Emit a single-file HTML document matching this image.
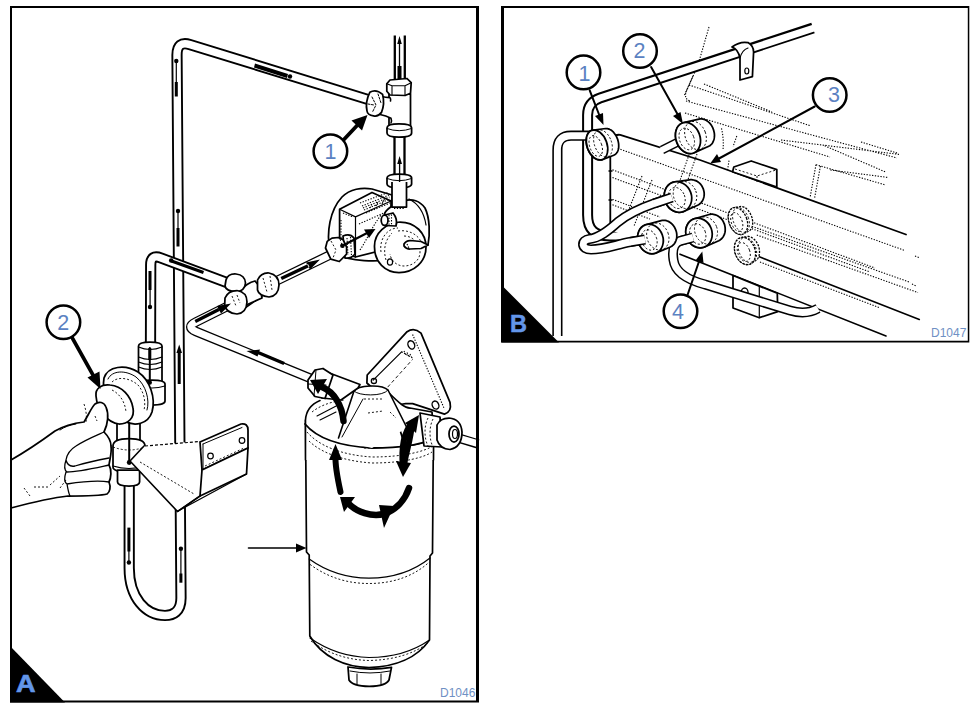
<!DOCTYPE html>
<html><head><meta charset="utf-8"><style>
html,body{margin:0;padding:0;background:#fff;width:977px;height:707px;overflow:hidden}
svg{display:block;position:absolute;left:0;top:0}
text{font-family:"Liberation Sans",sans-serif}
.k{fill:none;stroke:#000;stroke-linecap:round;stroke-linejoin:round}
.po{fill:none;stroke:#000;stroke-width:11.2;stroke-linecap:butt;stroke-linejoin:round}
.pi{fill:none;stroke:#fff;stroke-width:7.4;stroke-linecap:butt;stroke-linejoin:round}
.w{fill:#fff;stroke:#000;stroke-width:1.75;stroke-linejoin:round}
.d{fill:none;stroke:#000;stroke-width:0.9;stroke-dasharray:2 2}
.f{fill:#000;stroke:none}
.dt{fill:none;stroke:#000;stroke-width:1.1;stroke-dasharray:1.3 1.5}
.n{fill:#5b82c2;font-size:21.5px}
</style></head><body>
<svg width="977" height="707" viewBox="0 0 977 707">
<!-- PANEL A -->
<!-- P1 long pipe -->
<path class="po" d="M129.2,486 L129.2,568 C129.2,598 146,615.5 165,615.5 C173,615.5 181,612 181,598 L177,55 Q177,40.6 190,44.6 L368,99.5"/>
<path class="pi" d="M129.2,486 L129.2,568 C129.2,598 146,615.5 165,615.5 C173,615.5 181,612 181,598 L177,55 Q177,40.6 190,44.6 L368,99.5"/>
<!-- P2 -->
<path class="po" d="M228,283 L161,258 Q150.7,254 150.7,265 L150.5,345"/>
<path class="pi" d="M228,283 L161,258 Q150.7,254 150.7,265 L150.5,345"/>
<!-- P3 -->
<path class="po" style="stroke-width:9.6" d="M236,302 L196,322 Q185.5,327 196,331.5 L312,379"/>
<path class="pi" style="stroke-width:7" d="M236,302 L196,322 Q185.5,327 196,331.5 L312,379"/>
<!-- P4 -->
<path class="po" style="stroke-width:9.6" d="M266,286 L338,251"/>
<path class="pi" style="stroke-width:7" d="M266,286 L338,251"/>
<!-- top vertical pipes -->
<path class="po" style="stroke-width:12.3" d="M399.8,35.5 L399.8,82"/>
<path class="pi" style="stroke-width:7.7" d="M399.8,33 L399.8,82"/>
<path class="po" style="stroke-width:12.3" d="M399.5,135 L399.5,178"/>
<path class="pi" style="stroke-width:7.7" d="M399.5,135 L399.5,178"/>
<!-- outlet pipe right -->
<path class="po" style="stroke-width:9.6" d="M455,437 L478,444"/>
<path class="pi" style="stroke-width:7" d="M455,437 L479,444"/>

<!-- filter body -->
<path class="w" style="stroke-width:1.7" d="M305.5,420 L306.5,552 L309.2,555 L309.8,636 C322,657 345,667 369,667.5 C395,667 417,658 429.5,640 L430,556 L432.5,553 L433.5,420 Z"/>
<path class="k" stroke-width="1.2" d="M309.2,559 C330,574 350,578 369,578.2 C395,578 415,570 430,558"/>
<path class="d" d="M310,564.4 C330,579 350,583.5 369,583.5 C395,583.5 415,575 429,562.3"/>
<path class="k" stroke-width="1.1" d="M310,638 C330,652 350,657 369,657.5 C395,657.5 415,650 429.5,640"/>
<path class="d" d="M311,641 C330,655 350,660 369,660.5 C395,660 415,653 428,643"/>
<!-- drain plug -->
<path class="w" d="M348,667 L349,680 Q352.3,686 369.3,686.4 Q386,686 389,680 L391.5,667.3 Q370,671 348,667 Z"/>
<path class="k" stroke-width="1" d="M350,671 Q370,675 390,671 M357,674 L357,684 M381,674 L381,684"/>
<!-- filter top rim -->
<path fill="#fff" d="M305.5,460 L305.5,420 C306,410 318,401 335,398 L360,395 L395,395 C415,398 433,408 434,420 L434,460 Z"/>
<path class="k" stroke-width="1.6" d="M305.5,460 L305.5,420 C306,410 312,404 320,400.5 M433.5,460 L433.5,420"/>
<path class="k" stroke-width="1.8" d="M305,424 C315,436 335,446 372,448 C405,448 425,443 434,438"/>
<path class="d" d="M307,432 C318,445 340,455 372,457 C405,457 425,451 433,446"/>
<path class="d" d="M309,441 C320,452 342,461 372,463 C405,463 425,457 432,452"/>
<path class="d" d="M312,412 C322,404 335,401 345,400"/>
<path class="k" stroke-width="1.1" d="M317,416 L340,404 M320,420 L336,412"/>
<path class="d" d="M361,443 L371,443 M364,448 L374,448"/>
<!-- mounting plate -->
<path class="w" d="M366.9,383 L367.2,375 L407.1,331.7 Q414,327 421,333.1 L450,402.3 Q452,412 444.5,414.1 L412.6,403.7 L405.7,403.7 Q400,404 396,408 L380,395 Z"/>
<path class="k" stroke-width="1.2" d="M373.2,380.2 L401.6,351.8"/>
<path class="dt" d="M401.6,351.8 L412.6,358 M404,351 L406,355 M407,352.5 L409,356.5 M410,354 L412,358 M412.6,334.5 L444.5,409.3"/>
<path class="d" style="stroke-dasharray:3.5 2.5" d="M387.7,387.1 L412.6,359.4"/>
<ellipse class="k" stroke-width="1.4" cx="411.3" cy="344.9" rx="3.2" ry="4.3" transform="rotate(-25 411.3 344.9)"/>
<ellipse class="k" stroke-width="1.3" cx="373.9" cy="380.9" rx="2.6" ry="2.6"/>
<ellipse class="k" stroke-width="1.4" cx="435.5" cy="405.1" rx="3.2" ry="4.2" transform="rotate(-25 435.5 405.1)"/>
<!-- head body right side under plate -->
<path class="w" d="M388,392 C400,404 405,408 410,408 L432,412 L434,438 C425,443 415,445 405,446 Z"/>
<!-- outlet collar/nut -->
<path class="w" d="M420,413 L440,417 L442,447 L424,446 Z"/>
<path class="d" d="M428,418 C424,426 424,438 428,446 M433,419 C429,427 429,439 433,447"/>
<path class="w" d="M437,425 Q440,418 449,418 Q461,419 462,432 Q462,447 450,449.5 Q440,449 437,440 Z"/>
<ellipse class="w" cx="454" cy="434" rx="5" ry="8"/>
<ellipse class="k" stroke-width="1.2" cx="455" cy="434" rx="2.5" ry="4.5"/>
<!-- cone head -->
<path fill="#fff" d="M338,440 L354,391 C358,386 382,384 388,390 L407,428 L372,448 Z"/>
<path class="k" stroke-width="1.6" d="M338.5,438 L354,391 C358,385 382,384 388,390 L407,428"/>
<path class="k" stroke-width="1" d="M342,437 L363,399 M354,391 C358,396 383,397 388,390"/>
<path class="d" d="M364,399 L382,399 M368,413 L383,411 M390,412 L396,418"/>
<!-- inlet collar and nut -->
<path class="w" d="M324,371 L360,384.5 L358,388 L341,400 L322,398 Z"/>
<path class="w" d="M308,380 L315,370 L323,368.5 L333,375 L325,398.5 L315,396.5 L308,388 Z"/>
<path class="k" stroke-width="1" d="M308,384 L326,385 M316,370 L314,396"/>
<!-- filter curved arrows -->
<path class="k" stroke-width="6.5" stroke-linecap="butt" d="M343.5,421 C342,405 334,392 322,387"/>
<path class="f" d="M310,380 L327,379 L318,394 Z"/>
<path class="k" stroke-width="6" stroke-linecap="butt" d="M403,468 C401,448 404,432 412,423"/>
<path class="f" d="M419,415 L416,433 L405,423 Z"/>
<path class="k" stroke-width="6" stroke-linecap="butt" d="M340.5,492 C337,476 335,466 335.5,456"/>
<path class="f" d="M335.5,444 L342,460 L329,460 Z"/>
<path class="k" stroke-width="6" stroke-linecap="butt" d="M412,423 C411,440 405,455 404,466"/>
<path class="f" d="M403,477 L396,461 L411,463 Z"/>
<path class="k" stroke-width="6.5" stroke-linecap="butt" d="M409,488 C405,500 396,510 384,514 C371,517 357,512 349,504"/>
<path class="f" d="M379,505 L394,506 L384,528 Z M340,497 L355,497 L344,512 Z"/>
<!-- arrow pointing to filter -->
<path class="k" stroke-width="1.6" d="M248.5,548 L298,548"/>
<path class="f" d="M306.5,548 L296,543.5 L296,552.5 Z"/>
<!-- T1 tee top -->
<path class="w" d="M389,94 L389,126 L410.5,126 L410.5,94 Z"/>
<path fill="#fff" d="M379,96 Q386,97.5 390,97.6 L392,97.6 L392,118.3 L391,118.3 Q386,115.5 379,114.5 Z"/>
<path class="k" stroke-width="1.6" d="M380,96 Q386,97.5 390,97.6 Q391,99 390.5,101 M380,114.5 Q386,115.5 391,118.3 Q392,121 391,123"/>
<path class="w" d="M369.8,92.3 Q376,88.5 382.6,94.4 Q385,104 381.5,112.4 Q378,117 373.5,115.8 Q367.5,115 367,111 Q365,102 369.8,92.3 Z"/>
<path class="k" stroke-width="1" stroke-dasharray="2 1.5" d="M372,97 L376,105 L372.5,112 M378,94 L381,103 M368,104 L374,105"/>
<path class="w" d="M386.8,83.8 L390,80 L407,78.5 L411.2,82.7 L410.5,93.3 L405,95.5 L390,95 L386.8,91.2 Z"/>
<path class="k" stroke-width="1.1" d="M386.8,83.8 L392,85.8 L405,85.8 L411.2,82.7 M392,85.8 L392,95 M405,85.8 L405,95.5"/>
<path class="w" d="M387,128 Q387,123.8 399,123.8 Q411.6,123.8 411.6,128 L411.6,133 Q411.6,137.2 399,137.2 Q387,137.2 387,133 Z"/>
<path class="k" stroke-width="1" d="M387,128.5 Q399,133 411.6,128.5"/>
<path class="w" d="M387,178 Q387,174.2 399,174.2 Q411.6,174.2 411.6,178 L411.6,184 Q411.6,187.8 399,187.8 Q387,187.8 387,184 Z"/>
<path class="k" stroke-width="1" d="M387,178.5 Q399,183 411.6,178.5"/>
<!-- arrows in top pipes -->
<path class="k" stroke-width="1.3" d="M399.5,40 L399.5,70"/>
<path class="f" d="M397.5,66 L401.5,66 L401.5,79 L397.5,79 Z M399.5,36 L401.8,44 L397.2,44 Z"/>
<path class="k" stroke-width="1.3" d="M399.6,160 L399.6,205"/>
<path class="f" d="M397.6,186 L401.6,186 L401.6,200 L397.6,200 Z M399.6,156 L402,164 L397.2,164 Z"/>

<!-- PUMP -->
<path class="w" d="M330,252 C326,232 330,210 342,197 C350,189 362,187 372,189 L392,195 L393,258 C380,263 350,262 330,252 Z"/>
<path class="w" d="M339.6,209.3 L372,192.5 L391,201 L391,248 L355.5,257 L339.6,252 Z"/>
<path class="k" stroke-width="1.2" d="M339.6,209.3 L355.5,216.9 L355.5,257 M355.5,216.9 L391,201"/>
<path class="dt" d="M360,203 L388,192.5 M362,206 L389,195 M363,208 L389.5,197 M364,210 L390,199 M366,213 L390,203 M343,213 L353,217 M341,220 L341,248 M359,224 L386,212 M370,208 L372,204 M376,206 L378,202 M382,204 L384,200"/>
<path class="dt" d="M360,250 C368,238 372,226 382,214"/>
<!-- volute / housing -->
<path class="w" d="M384,216 C385,208 395,204 404,201 C412,198 420,201 425,208 C430,218 430,235 428,245 L400,250 Z"/>
<path class="k" stroke-width="1.2" d="M409,199 C417,203 424,212 426,225"/>
<path class="w" d="M392,182 L392,207 L406.5,207 L406.5,182"/>
<path class="dt" d="M394,208.5 L405,208.5"/>
<path class="w" d="M374.5,247 C374,233 386,223 400,222 C415,222 426,233 426,247 C426,262 414,272.5 399,272.5 C385,272.5 374.5,262 374.5,247 Z"/>
<path class="d" d="M381,252 C379,238 388,228 398,228 M386,260 C383,250 385,240 392,233"/>
<path class="d" d="M404,236 C413,236 420,244 420,252 C420,261 412,266 404,266 C397,266 391,261 390,254"/>
<path class="d" d="M398,231 C412,229 423,238 423,250"/>
<ellipse class="k" stroke-width="1.2" cx="390" cy="262" rx="2.6" ry="3.2"/>
<path class="w" d="M404,244 Q406,240.5 410,240.5 L421,241.5 L428,245 L421,248.5 L410,249 Q406,249 404,246 Z"/>
<path class="dt" d="M407,244 L409,248"/>
<!-- inlet boss -->
<path class="w" d="M384.8,215 L393,213 Q398,219 396,226 L384.8,225.5 Z"/>
<path class="dt" d="M389,215 L389,225 M391.5,214.5 L391.5,225.5"/>
<ellipse class="w" cx="384.6" cy="220.3" rx="3.4" ry="5.1"/>
<!-- P4 end nut at pump -->
<path class="w" d="M343,236 Q350,233 354,238 L355,254 Q351,259 345,258 Z"/>
<path class="dt" d="M347,238 L348,255 M350.5,237 L351.5,256"/>
<path class="w" d="M325.5,248 L327.2,241.4 L332,238.1 L338.1,237.5 L343,239.6 L346.6,247 L346.6,254.2 L339.3,261.5 L330.8,259.1 Z"/>
<path class="d" d="M331,241 L336,250 L333,258 M340,239 L343,248"/>
<path class="k" stroke-width="2.2" d="M342.4,245.7 L371,231"/>
<circle class="f" cx="342.4" cy="245.7" r="2.3"/>
<path class="f" d="M375.5,229 L364,229.5 L369,238 Z"/>

<!-- T2 junction -->
<path class="w" d="M240,296 L258,286 L262,296 L242,310 Z"/>
<path class="w" d="M241,290 Q247,283 255,281 L260,287 L262,298 L244,306 Z"/>
<path class="w" d="M226,280 Q228,273.5 236,274 Q245,275 245.5,283 Q245,291 236,292 Q226,291 225,286 Z"/>
<path class="w" d="M225,298 Q228,290.5 237,290.5 Q247,292 247,302 Q246.5,313 237,314 Q226,313 224.7,305 Z"/>
<path class="d" d="M232,296 L236,306 M237,295 L240,303"/>
<path class="w" d="M257.5,280 Q261,272.5 269,273 Q279,275 279,285 Q278.5,296 269,297 Q259,296 257.5,290 Z"/>
<path class="d" d="M263,278 L267,292 M270,276 L272,290"/>
<!-- arrows in P2/P3/P4 -->
<path class="f" d="M172,259.5 L204,271 L203,274 L171,262.5 Z"/>
<circle class="f" cx="171.2" cy="260.5" r="2.3"/>
<path class="f" d="M194.5,320 L218,308 L219.6,311 L196,323 Z M231,303.5 L217,306 L221,313.5 Z"/>
<path class="f" d="M280.5,277 L308,264 L309.5,267 L282,280 Z M320,259.5 L306,262.5 L310,269.5 Z"/>
<path class="f" d="M283.5,365 L258,354.2 L259.3,351.2 L284.8,362 Z M246.5,351 L260,349.5 L257.5,356.5 Z"/>
<path class="f" d="M255,63.5 L288,74 L287,78 L254,67.5 Z"/>
<circle class="f" cx="290" cy="76.5" r="2.2"/>
<!-- vertical arrows in P1 -->
<path class="k" stroke-width="1.2" d="M176.3,61 L176.3,85"/>
<circle class="f" cx="176.3" cy="61" r="2.2"/>
<path class="f" d="M174.8,82 L177.8,82 L177.8,96.5 L174.8,96.5 Z"/>
<circle class="f" cx="178" cy="211" r="2.2"/>
<path class="k" stroke-width="1.2" d="M178,211 L178,230"/>
<path class="f" d="M176.5,228 L179.5,228 L179.5,246.5 L176.5,246.5 Z"/>
<path class="f" d="M177.7,352 L180.7,352 L180.7,384 L177.7,384 Z M179.2,344.5 L182,353 L176.4,353 Z"/>
<path class="f" d="M148.5,271 L151.5,271 L151.5,290 L148.5,290 Z"/>
<path class="k" stroke-width="1.2" d="M150.1,288 L150.1,306"/>
<circle class="f" cx="150" cy="307" r="2.2"/>
<path class="f" d="M127.4,527.6 L130.4,527.6 L130.4,551.5 L127.4,551.5 Z"/>
<path class="k" stroke-width="1.2" d="M128.9,550 L128.9,562"/>
<circle class="f" cx="128.9" cy="562.5" r="2.2"/>
<circle class="f" cx="180.9" cy="548.7" r="2.2"/>
<path class="k" stroke-width="1.2" d="M180.9,549 L180.9,574"/>
<path class="f" d="M179.4,573.5 L182.4,573.5 L182.4,582.7 L179.4,582.7 Z"/>

<!-- fitting on P2 (vertical cylinder) -->
<path class="w" d="M138.5,346 Q138.5,342 150,342 Q162,342 162,346 L162,384 L138.5,384 Z"/>
<path class="k" stroke-width="1.1" d="M138.5,347 Q150,352 162,347 M138.5,357 Q150,362 162,357 M138.5,362 Q150,367 162,362 M138.5,367 Q150,372 162,367"/>
<path class="w" d="M139,383 Q139,380 152,380 Q165,380 165,384 L165,401 Q165,405 152,405 Q139,405 139,401 Z"/>
<path class="k" stroke-width="1.1" d="M139,386 Q152,390 165,386"/>
<path class="k" stroke-width="2" d="M149.8,348 L149.8,382"/>
<circle class="f" cx="149.8" cy="382.5" r="2.2"/>
<path class="f" d="M148.3,348 L151.3,348 L151.3,360 L148.3,360 Z"/>
<!-- connector below primer pump -->
<path class="w" d="M117,418 L117,442 L140,442 L140,418 Z"/>
<path class="w" d="M113,446 Q113,438.5 129,438.5 Q145,438.5 145,446 L145,467 Q145,472 129,472 Q113,472 113,467 Z"/>
<path class="d" d="M113,447 Q129,453 145,447"/>
<path class="k" stroke-width="1.1" d="M113,466 Q129,471 145,466"/>
<path class="w" d="M117.5,470 L117.5,482 Q117.5,486 129,486 Q139.6,486 139.6,482 L139.6,470 Z"/>
<!-- primer pump flange -->
<path class="w" d="M104,378 C108,366 125,364 138,372 C150,380 156,398 152,412 C148,424 135,427 124,421 C112,414 101,392 104,378 Z"/>
<path class="k" stroke-width="1" d="M108,379 C112,370 126,370 136,377 C146,385 150,400 147,410"/>
<path class="d" d="M112,382 C118,376 130,378 138,385 C144,392 146,402 144,410"/>
<!-- primer knob -->
<path class="w" d="M96,396 C95,388 102,384 110,385 C122,386 131,396 133,408 C135,418 128,424 119,424 C108,423 97,410 96,396 Z"/>
<path class="d" d="M112,390 C120,394 125,402 126,412"/>
<path class="k" stroke-width="2" d="M129.2,423 L129.2,462"/>
<circle class="f" cx="129.2" cy="462.5" r="2.4"/>
<!-- hand -->
<path class="w" d="M11,460 C25,452 40,442 55,431 C65,425 75,423 84,422 C88,416 91,408 95,404 C99,401 104,402 106,407 C109,414 108,424 104,432 C108,436 111,440 111,446 C112,452 110,458 109,465 C112,470 111,478 109,482 C111,487 110,492 107,494 C100,496 80,496 68,496 C50,498 30,503 11,508 Z"/>
<path class="k" stroke-width="1.3" d="M104,432 C95,436 85,440 76,446 C71,449 67,454 66,460 M66,460 C67,464 70,467 75,466 C85,463 98,460 109,458 M66,460 C64,466 64,470 67,472 M67,472 C78,472 95,468 109,465 M66,472 C64,478 64,482 67,484 C80,482 98,480 109,482 M67,484 C68,490 69,494 70,496"/>
<path class="d" d="M24,488 L30,496 M34,487 L50,487 M50,485 L60,476 M60,488 L66,480 M84,404 C86,410 87,416 86,422 M95,416 L97,421"/>
<path class="k" stroke-width="1" d="M60,430 C64,427 70,425 76,424"/>
<!-- bracket -->
<path fill="#fff" d="M130,461 L144,446 L201,441 L200,496 L177.5,511.5 Z"/>
<path class="k" stroke-width="1.6" d="M144,446 L130,461 L177.5,511.5 L200,496"/>
<path class="d" style="stroke-width:1.2;stroke-dasharray:3 2" d="M145,446 L200,441.5"/>
<path class="d" d="M140,462 L194,494"/>
<path class="w" d="M200,442 L241,424 Q248,423 248,430 L248,448 L202,470 Z"/>
<path class="k" stroke-width="1" d="M203,444 L203,469 M203,444 L242,427.5"/>
<path class="w" d="M202,470 L248,448 L246.5,474 L200,496 Z"/>
<path class="k" stroke-width="1.2" d="M200,496 L177.5,511.5 M246.5,474 L178,511"/>
<path class="d" d="M205,466 L244,448"/>
<circle class="k" stroke-width="1.2" cx="210.5" cy="456" r="2.8"/>
<circle class="k" stroke-width="1.2" cx="242" cy="440.5" r="2.8"/>

<!-- callouts A -->
<path class="k" stroke-width="3.8" stroke-linecap="butt" d="M343,140.5 L358,124.5"/>
<path class="f" d="M367.5,115 L351.5,120.5 L362,130.5 Z"/>
<circle cx="330.4" cy="151.2" r="16.8" fill="#fff" stroke="#000" stroke-width="2.5"/>
<text class="n" x="324.6" y="158.6">1</text>
<path class="k" stroke-width="3.6" stroke-linecap="butt" d="M72.6,338.5 L93,375"/>
<path class="f" d="M100.5,389 L87.5,377.5 L99.5,371.5 Z"/>
<circle cx="63.4" cy="322.2" r="16.8" fill="#fff" stroke="#000" stroke-width="2.5"/>
<text class="n" x="57.3" y="329.6">2</text>

<!-- PANEL B -->
<g>
<!-- background dotted engine lines -->
<path class="dt" d="M709,27 L698,65 L686,92 Q684,99 690,101 M693,76 L684,96 M704,84 L772,112 M689,85 L811,126 M686,101 L897,158 M685,113 L830,157 M861,142 L897,153 M781,140 L900,154.5 M824.7,145.8 L885.6,172"/>
<path class="dt" d="M816,164.7 L810.2,196.6 M820.4,166 L814.6,198 M816,164.7 L885.6,185 M830.4,170 L887.7,177.4"/>
<path class="dt" d="M721.5,128.3 Q724,139 723,149.8 M736.8,136 L733,146.8 M729,160.6 L727.6,170"/>
<!-- top pipe with clip -->
<path class="po" style="stroke-width:11" d="M813,28 L600,98 Q587.6,102.2 587.6,115 L587.6,215 C587.6,230 595,236 610,236 L640,236"/>
<path class="pi" style="stroke-width:7" d="M814,28 L600,98 Q587.6,102.2 587.6,115 L587.6,215 C587.6,230 595,236 610,236 L640,236"/>
<path class="w" d="M740,80 L740,58 Q738,49 732,47 Q740,41 748,42.6 Q753.6,46 753.6,52 L752.4,76.6 Z"/>
<path class="k" stroke-width="1.2" d="M740,58 Q742,50 748,48"/>
<ellipse class="k" stroke-width="1.2" cx="746.8" cy="71" rx="2" ry="3"/>
<!-- left U pipe -->
<path class="po" style="stroke-width:10.2" d="M557.4,336 L557.4,150 Q557.4,135.7 571,135.7 L592,135.7"/>
<path class="pi" style="stroke-width:7" d="M557.4,336 L557.4,150 Q557.4,135.7 571,135.7 L592,135.7"/>
<!-- rail -->
<path fill="#fff" d="M610.3,230 L610.3,144 Q610.3,134 620.2,134.8 L700,160 L906,234.5 L925,320 L886,336 Z"/>
<path class="k" stroke-width="1.8" d="M610.3,228 L610.3,144 Q610.3,134 620.2,134.8 L700,160 L906,234.5"/>
<path class="k" stroke-width="1.6" d="M759.3,256.8 L919.3,319.5 M680,254.2 L886,336"/>
<path class="k" stroke-width="1.4" d="M609,171 L612,171 M609,200 L612,200"/>
<path class="dt" d="M612.5,146.5 L904,250.2 M612.5,169.8 L875,268 M612.5,177.6 L870,272 M612.5,199.4 L660,217 M612.5,204.8 L650,219 M744,223.5 L910.3,282.4 M756.8,235 L918,292.6 M760,262 L880,308 M915,256 L920,258 M912,284 L916,286"/>
<path class="dt" d="M642,176 L624,222 M652,180 L634,226 M690,152 L678,186 M697,154 L685,188"/>
<!-- block on rail -->
<path class="w" d="M732.8,171 L733.8,167 L751.2,161 L776.8,169.7 L776.8,187.1 L733,172 Z"/>
<path class="d" d="M735,169 L757,176 L776,170 M757,176 L757,183"/>
<!-- bracket below -->
<path class="w" d="M733,275.5 L733,308 L759.3,317.7 L777.7,311.6 L777.3,293.3 Z"/>
<path class="k" stroke-width="1.2" d="M759.3,286 L759.3,317.7"/>
<ellipse class="k" stroke-width="1.3" cx="744.6" cy="293" rx="3.5" ry="5"/>
<!-- pipe loop L2 -->
<path class="po" style="stroke-width:10.2" d="M672,197.5 L654,203.5 C638,209 628,214 618,222 C608,231 599,238 589.5,239 C580.5,240 581,249.5 591,249.5 C604,249.5 615,245 630,242 L645,239.5"/>
<path class="pi" style="stroke-width:7" d="M672,197.5 L654,203.5 C638,209 628,214 618,222 C608,231 599,238 589.5,239 C580.5,240 581,249.5 591,249.5 C604,249.5 615,245 630,242 L645,239.5"/>
<!-- pipe 4 -->
<path class="po" style="stroke-width:10" d="M693,237.5 L680,241 C674,243 672,250 673.5,260 C675,272 688,280 705,284.5 L790,310.5 C800,313.5 810,313 818,308.5"/>
<path class="pi" style="stroke-width:7" d="M693,237.5 L680,241 C674,243 672,250 673.5,260 C675,272 688,280 705,284.5 L790,310.5 C800,313.5 810,313 818,308.5"/>
<!-- stub into nut 2 -->
<path class="po" style="stroke-width:9" d="M682,140 L662,150"/>
<path class="pi" style="stroke-width:6" d="M683,139.5 L661,150.5"/>
<!-- nuts B -->
<path class="w" d="M586.2,140.7 L586.3,139.4 L586.4,138.3 L586.6,137.1 L586.9,136.0 L587.3,135.0 L587.7,134.1 L588.2,133.2 L588.8,132.5 L589.4,131.8 L590.1,131.2 L590.9,130.8 L591.7,130.4 L592.5,130.2 L593.4,130.1 L605.8,128.5 L606.6,128.5 L607.4,128.6 L608.2,128.8 L609.1,129.1 L609.9,129.5 L610.8,129.9 L611.6,130.5 L612.4,131.2 L613.2,131.9 L613.9,132.8 L614.6,133.7 L615.3,134.6 L615.9,135.6 L616.5,136.7 L617.0,137.8 L617.5,138.9 L617.8,140.1 L618.2,141.3 L618.4,142.4 L618.6,143.6 L618.7,144.8 L618.7,145.9 L618.7,147.0 L618.6,148.1 L618.4,149.1 L618.1,150.1 L617.8,151.0 L617.4,151.9 L616.9,152.6 L616.4,153.3 L615.8,153.9 L615.2,154.4 L614.5,154.8 L613.8,155.2 L602.3,159.6 L601.5,159.8 L600.6,159.9 L599.7,160.0 L598.8,159.9 L597.8,159.6 L596.9,159.3 L596.0,158.9 L595.0,158.4 L594.1,157.7 L593.2,157.0 L592.3,156.2 L591.5,155.2 L590.7,154.3 L590.0,153.2 L589.3,152.1 L588.7,150.9 L588.1,149.7 L587.6,148.4 L587.2,147.1 L586.8,145.8 L586.6,144.5 L586.4,143.2 L586.2,141.9 Z"/>
<ellipse class="w" cx="597" cy="145" rx="10" ry="15.5" transform="rotate(-20 597 145)"/>
<ellipse class="d" cx="603.0" cy="143.5" rx="8.6" ry="14.0" transform="rotate(-20 603.0 143.5)"/>
<ellipse class="d" cx="595.5" cy="145.5" rx="6.0" ry="10.8" transform="rotate(-20 597 145)"/>
<path class="w" d="M675.5,135.4 L675.5,134.0 L675.6,132.7 L675.8,131.5 L676.2,130.3 L676.6,129.1 L677.0,128.0 L677.6,127.0 L678.3,126.1 L679.0,125.3 L679.8,124.5 L680.7,123.9 L681.6,123.4 L682.5,123.0 L683.5,122.7 L699.0,119.1 L699.9,118.9 L700.9,118.9 L701.9,118.9 L702.9,119.1 L703.9,119.3 L704.9,119.7 L705.8,120.1 L706.8,120.7 L707.7,121.4 L708.6,122.1 L709.5,122.9 L710.3,123.8 L711.0,124.8 L711.7,125.8 L712.3,126.9 L712.9,128.1 L713.3,129.2 L713.7,130.4 L714.0,131.7 L714.3,132.9 L714.4,134.1 L714.5,135.3 L714.4,136.6 L714.3,137.7 L714.1,138.9 L713.8,140.0 L713.4,141.0 L713.0,142.0 L712.5,142.9 L711.9,143.8 L711.2,144.5 L710.5,145.2 L709.7,145.8 L708.8,146.2 L694.4,152.6 L693.5,153.0 L692.5,153.3 L691.4,153.5 L690.4,153.6 L689.3,153.5 L688.2,153.4 L687.1,153.1 L686.0,152.7 L684.9,152.2 L683.9,151.5 L682.9,150.8 L681.9,150.0 L681.0,149.1 L680.1,148.1 L679.3,147.0 L678.5,145.9 L677.8,144.7 L677.2,143.4 L676.7,142.1 L676.3,140.8 L675.9,139.4 L675.7,138.1 L675.5,136.7 Z"/>
<ellipse class="w" cx="688" cy="138" rx="12" ry="16" transform="rotate(-20 688 138)"/>
<ellipse class="d" cx="695.5" cy="135.5" rx="10.3" ry="14.5" transform="rotate(-20 695.5 135.5)"/>
<ellipse class="d" cx="686.5" cy="138.5" rx="7.2" ry="11.2" transform="rotate(-20 688 138)"/>
<path class="w" style="stroke-dasharray:2.2 1.2;stroke-width:1.3" d="M728.3,217.1 L728.3,216.0 L728.4,214.9 L728.6,213.9 L728.9,212.9 L729.2,212.0 L729.6,211.1 L730.1,210.4 L730.6,209.7 L731.2,209.1 L731.8,208.6 L732.5,208.2 L733.2,207.8 L734.0,207.6 L740.2,206.6 L740.9,206.5 L741.7,206.5 L742.4,206.6 L743.1,206.8 L743.9,207.1 L744.7,207.4 L745.4,207.9 L746.2,208.4 L746.9,209.1 L747.6,209.8 L748.3,210.5 L748.9,211.4 L749.5,212.3 L750.1,213.2 L750.6,214.2 L751.1,215.2 L751.5,216.3 L751.9,217.3 L752.2,218.4 L752.4,219.5 L752.6,220.6 L752.7,221.7 L752.7,222.7 L752.7,223.8 L752.6,224.8 L752.5,225.7 L752.2,226.6 L752.0,227.4 L751.6,228.2 L751.2,228.9 L750.7,229.5 L750.2,230.1 L749.7,230.6 L749.1,230.9 L743.5,233.8 L742.8,234.2 L742.0,234.4 L741.2,234.5 L740.4,234.5 L739.6,234.4 L738.8,234.2 L737.9,233.9 L737.1,233.5 L736.2,233.1 L735.4,232.5 L734.6,231.8 L733.8,231.1 L733.1,230.2 L732.4,229.3 L731.7,228.4 L731.1,227.4 L730.5,226.3 L730.0,225.2 L729.5,224.1 L729.2,222.9 L728.8,221.7 L728.6,220.6 L728.4,219.4 L728.3,218.2 Z"/>
<ellipse class="w" style="stroke-dasharray:2.2 1.2;stroke-width:1.3" cx="738" cy="221" rx="9" ry="14" transform="rotate(-20 738 221)"/>
<ellipse class="d" cx="741.0" cy="220.0" rx="7.7" ry="12.8" transform="rotate(-20 741.0 220.0)"/>
<ellipse class="d" cx="736.5" cy="221.5" rx="5.4" ry="9.8" transform="rotate(-20 738 221)"/>
<path class="w" style="stroke-dasharray:2.2 1.2;stroke-width:1.3" d="M734.5,248.5 L734.5,247.4 L734.6,246.3 L734.7,245.2 L735.0,244.1 L735.3,243.1 L735.7,242.2 L736.2,241.3 L736.7,240.5 L737.3,239.8 L737.9,239.2 L738.7,238.6 L739.4,238.2 L740.2,237.8 L741.0,237.6 L746.3,236.6 L747.1,236.4 L747.9,236.4 L748.7,236.5 L749.5,236.6 L750.4,236.9 L751.2,237.2 L752.0,237.7 L752.8,238.2 L753.6,238.8 L754.4,239.5 L755.1,240.2 L755.8,241.0 L756.4,241.9 L757.0,242.9 L757.6,243.8 L758.0,244.9 L758.5,245.9 L758.8,247.0 L759.1,248.1 L759.3,249.2 L759.5,250.3 L759.5,251.4 L759.5,252.4 L759.5,253.5 L759.3,254.5 L759.1,255.5 L758.8,256.4 L758.5,257.2 L758.1,258.0 L757.6,258.8 L757.1,259.4 L756.5,260.0 L755.8,260.5 L751.3,263.4 L750.6,263.8 L749.8,264.2 L749.0,264.4 L748.1,264.5 L747.2,264.6 L746.3,264.5 L745.4,264.4 L744.4,264.1 L743.5,263.7 L742.6,263.3 L741.7,262.7 L740.9,262.1 L740.0,261.3 L739.3,260.5 L738.5,259.7 L737.8,258.7 L737.2,257.7 L736.6,256.7 L736.1,255.6 L735.6,254.4 L735.2,253.3 L734.9,252.1 L734.7,250.9 L734.5,249.7 Z"/>
<ellipse class="w" style="stroke-dasharray:2.2 1.2;stroke-width:1.3" cx="745" cy="251" rx="10" ry="14" transform="rotate(-20 745 251)"/>
<ellipse class="d" cx="747.5" cy="250.0" rx="8.6" ry="12.8" transform="rotate(-20 747.5 250.0)"/>
<ellipse class="d" cx="743.5" cy="251.5" rx="6.0" ry="9.8" transform="rotate(-20 745 251)"/>
<path class="w" d="M637.7,236.9 L637.8,235.7 L637.9,234.4 L638.2,233.2 L638.6,232.1 L639.0,231.0 L639.6,229.9 L640.2,228.9 L640.9,228.0 L641.7,227.2 L642.5,226.5 L643.4,225.9 L644.4,225.3 L645.4,224.9 L646.4,224.6 L661.2,220.6 L662.2,220.4 L663.2,220.3 L664.2,220.3 L665.2,220.4 L666.3,220.6 L667.3,221.0 L668.3,221.4 L669.3,221.9 L670.2,222.5 L671.1,223.2 L672.0,224.0 L672.8,224.9 L673.5,225.8 L674.2,226.8 L674.8,227.8 L675.3,228.9 L675.8,230.1 L676.2,231.2 L676.5,232.4 L676.7,233.6 L676.8,234.8 L676.8,236.0 L676.8,237.2 L676.6,238.3 L676.4,239.4 L676.0,240.5 L675.6,241.5 L675.1,242.5 L674.6,243.4 L673.9,244.3 L673.2,245.0 L672.4,245.7 L671.6,246.3 L670.7,246.8 L669.8,247.2 L655.6,253.1 L654.6,253.4 L653.5,253.6 L652.4,253.7 L651.3,253.7 L650.2,253.6 L649.1,253.3 L648.0,253.0 L646.9,252.5 L645.8,252.0 L644.8,251.3 L643.8,250.6 L642.9,249.8 L642.0,248.8 L641.2,247.8 L640.5,246.8 L639.8,245.7 L639.2,244.5 L638.8,243.3 L638.4,242.0 L638.0,240.8 L637.8,239.5 L637.7,238.2 Z"/>
<ellipse class="w" cx="650.5" cy="239" rx="12.5" ry="15" transform="rotate(-20 650.5 239)"/>
<ellipse class="d" cx="657.8" cy="236.5" rx="10.8" ry="13.8" transform="rotate(-20 657.8 236.5)"/>
<ellipse class="d" cx="649.0" cy="239.5" rx="7.5" ry="10.5" transform="rotate(-20 650.5 239)"/>
<path class="w" d="M685.8,231.1 L685.9,229.8 L686.1,228.6 L686.3,227.3 L686.7,226.2 L687.2,225.1 L687.8,224.0 L688.4,223.0 L689.2,222.1 L690.0,221.3 L690.9,220.5 L691.8,219.9 L692.8,219.3 L693.9,218.9 L695.0,218.6 L709.2,214.5 L710.2,214.3 L711.3,214.2 L712.4,214.2 L713.4,214.3 L714.5,214.6 L715.5,214.9 L716.6,215.3 L717.6,215.8 L718.6,216.4 L719.5,217.1 L720.4,217.9 L721.2,218.7 L722.0,219.6 L722.7,220.6 L723.3,221.7 L723.8,222.8 L724.3,223.9 L724.7,225.1 L724.9,226.2 L725.1,227.4 L725.2,228.6 L725.2,229.8 L725.2,231.0 L725.0,232.2 L724.7,233.3 L724.4,234.4 L723.9,235.4 L723.4,236.4 L722.8,237.3 L722.1,238.2 L721.4,239.0 L720.5,239.6 L719.7,240.2 L718.8,240.7 L705.2,246.7 L704.1,247.1 L703.0,247.4 L701.9,247.7 L700.8,247.8 L699.6,247.8 L698.5,247.7 L697.3,247.4 L696.2,247.1 L695.1,246.7 L694.0,246.1 L692.9,245.5 L691.9,244.7 L691.0,243.9 L690.1,243.0 L689.3,242.0 L688.5,240.9 L687.9,239.8 L687.3,238.7 L686.8,237.4 L686.4,236.2 L686.1,234.9 L685.9,233.6 L685.8,232.4 Z"/>
<ellipse class="w" cx="699" cy="233" rx="13" ry="15" transform="rotate(-20 699 233)"/>
<ellipse class="d" cx="706.0" cy="230.5" rx="11.2" ry="13.8" transform="rotate(-20 706.0 230.5)"/>
<ellipse class="d" cx="697.5" cy="233.5" rx="7.8" ry="10.5" transform="rotate(-20 699 233)"/>
<path class="w" d="M664.3,195.0 L664.4,193.7 L664.6,192.4 L664.9,191.2 L665.3,190.0 L665.8,188.8 L666.4,187.7 L667.1,186.7 L667.8,185.8 L668.7,184.9 L669.6,184.1 L670.6,183.5 L671.6,182.9 L672.7,182.4 L673.8,182.1 L675.0,181.9 L689.4,179.8 L690.5,179.7 L691.5,179.7 L692.6,179.8 L693.6,180.0 L694.7,180.3 L695.7,180.6 L696.7,181.1 L697.7,181.7 L698.6,182.4 L699.5,183.1 L700.3,183.9 L701.0,184.8 L701.7,185.8 L702.3,186.8 L702.8,187.8 L703.3,188.9 L703.6,190.0 L703.9,191.2 L704.1,192.3 L704.2,193.5 L704.2,194.6 L704.1,195.8 L703.9,196.9 L703.6,198.0 L703.2,199.1 L702.8,200.1 L702.3,201.0 L701.6,201.9 L701.0,202.8 L700.2,203.5 L699.4,204.2 L698.5,204.8 L697.6,205.3 L684.4,211.1 L683.3,211.6 L682.2,211.9 L681.0,212.1 L679.8,212.3 L678.6,212.3 L677.4,212.2 L676.2,211.9 L675.1,211.6 L673.9,211.1 L672.8,210.6 L671.7,209.9 L670.6,209.1 L669.7,208.3 L668.7,207.3 L667.9,206.3 L667.1,205.2 L666.4,204.1 L665.8,202.9 L665.3,201.6 L664.9,200.3 L664.6,199.0 L664.4,197.7 L664.3,196.4 Z"/>
<ellipse class="w" cx="678" cy="197" rx="13.5" ry="15.5" transform="rotate(-20 678 197)"/>
<ellipse class="d" cx="685.0" cy="195.0" rx="11.5" ry="13.8" transform="rotate(-20 685.0 195.0)"/>
<ellipse class="d" cx="676.5" cy="197.5" rx="8.1" ry="10.8" transform="rotate(-20 678 197)"/>
<path class="po" style="stroke-width:10.2" d="M654,203.5 L672,197.5"/>
<path class="pi" style="stroke-width:7" d="M653.5,203.7 L672,197.5"/>
<path class="po" style="stroke-width:10" d="M680,241 L693,237.5"/>
<path class="pi" style="stroke-width:7" d="M679.5,241.2 L693,237.5"/>
<path class="po" style="stroke-width:10.2" d="M630,242 L645,239.5"/>
<path class="pi" style="stroke-width:7" d="M629.5,242.1 L645,239.5"/>
<!-- callouts B -->
<path class="k" stroke-width="2" d="M589.7,90.3 L600,117"/>
<path class="f" d="M603.5,125 L595,116 L603,113 Z"/>
<path class="k" stroke-width="2" d="M651.1,67 L678,115"/>
<path class="f" d="M683,124 L673,116 L680.5,112 Z"/>
<path class="k" stroke-width="2" d="M814.7,106.5 L719,158.5"/>
<path class="f" d="M710.2,163.5 L717,154 L721,162 Z"/>
<path class="k" stroke-width="2" d="M687.7,294.5 L699.5,260"/>
<path class="f" d="M702.3,251.5 L703.5,263 L695.5,260.5 Z"/>
<circle cx="583.5" cy="72.4" r="16.8" fill="#fff" stroke="#000" stroke-width="2.5"/>
<text class="n" x="578.6" y="80.6">1</text>
<circle cx="640" cy="51" r="16.8" fill="#fff" stroke="#000" stroke-width="2.5"/>
<text class="n" x="633.6" y="58">2</text>
<circle cx="829.7" cy="95" r="16.8" fill="#fff" stroke="#000" stroke-width="2.5"/>
<text class="n" x="828" y="101.6">3</text>
<circle cx="680.5" cy="311.2" r="16.8" fill="#fff" stroke="#000" stroke-width="2.5"/>
<text class="n" x="672" y="318.5">4</text>
</g>
<!-- frames -->
<path fill="#000" d="M10,6 H479 V702.6 H10 Z M12,8 V700.6 H476 V8 Z" fill-rule="evenodd"/>
<path fill="#000" d="M501,6 H969.3 V342.6 H501 Z M504,8 V340.7 H967.8 V8 Z" fill-rule="evenodd"/>
<path d="M10 646 L65 702.5 L10 702.5 Z" fill="#000"/>
<path d="M501.5 285 L559 342.5 L501.5 342.5 Z" fill="#000"/>
<text x="16" y="692.3" font-size="24" font-weight="bold" fill="#6396ea" stroke="#6396ea" stroke-width="0.6" transform="translate(16 692) scale(1.13 1) translate(-16 -692)">A</text>
<text x="510" y="332" font-size="23.5" font-weight="bold" fill="#6396ea" stroke="#6396ea" stroke-width="0.5">B</text>
<text x="440" y="697" font-size="12" fill="#6f90c4">D1046</text>
<text x="931" y="337" font-size="12" fill="#6f90c4">D1047</text>
</svg>
</body></html>
